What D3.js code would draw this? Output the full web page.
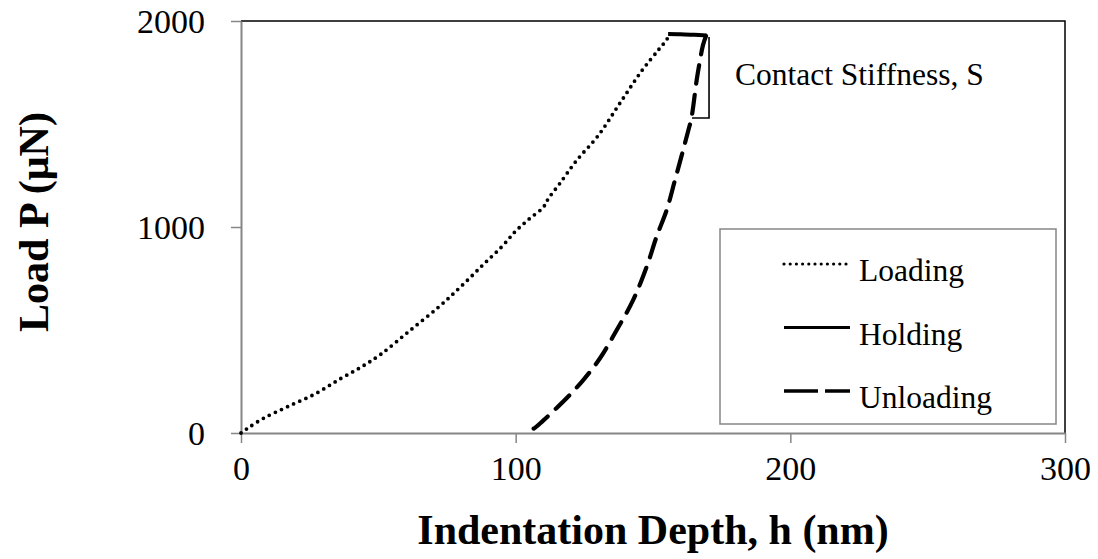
<!DOCTYPE html>
<html>
<head>
<meta charset="utf-8">
<script src="https://cdn.jsdelivr.net/npm/d3@7"></script>
<style>
  body { margin: 0; background: #fff; }
  text { font-family: "Liberation Serif", "Times New Roman", serif; }
</style>
</head>
<body>
<svg class="chart" width="1098" height="559"></svg>
<script>
// depth h (nm), load P (uN)
const loadingH = [0, 2, 8, 17, 27, 36, 44, 51, 61, 72, 80, 88, 95, 100, 105, 110, 112, 116, 122, 130, 138, 146, 152, 155, 156]
const loadingP = [0, 19, 70, 128, 190, 262, 322, 383, 492, 612, 710, 815, 905, 980, 1040, 1095, 1140, 1210, 1320, 1443, 1602, 1760, 1860, 1910, 1937]

const holdingH = [155.5, 160, 165, 169.5]
const holdingP = [1937, 1936, 1933, 1930]

const unloadingH = [169.3, 168.2, 167, 165.9, 164, 162.9, 160.5, 158, 155, 151.3, 147.7, 142.8, 136.8, 130.7, 124.6, 118.6, 114, 110, 107, 104]
const unloadingP = [1927, 1883, 1800, 1713, 1529, 1471, 1350, 1228, 1083, 953, 807, 646, 500, 363, 257, 170, 110, 60, 25, 3]

// contact stiffness bracket
const bracketH = [170.4, 170.4, 164.2]
const bracketP = [1922, 1529, 1529]

const xTicks = [0, 100, 200, 300]
const yTicks = [0, 1000, 2000]
const legendNames = ['Loading', 'Holding', 'Unloading']

const svg = d3.select('.chart')
const x = d3.scaleLinear().domain([0, 300]).range([241, 1065])
const y = d3.scaleLinear().domain([0, 2000]).range([433, 21])

function zip(hs, ps) {
  return hs.map((h, i) => [h, ps[i]])
}

// plot frame: top and right
svg.append('path')
  .attr('d', `M${x(0)},${y(2000)}H${x(300)}V${y(0)}`)
  .attr('fill', 'none')
  .attr('stroke', '#000')
  .attr('stroke-width', 1.5)

const xAxis = svg.append('g')
  .attr('transform', `translate(0,${y(0)})`)
  .call(d3.axisBottom(x).tickValues(xTicks).tickFormat(d3.format('d')).tickSize(10).tickPadding(10).tickSizeOuter(0))
const yAxis = svg.append('g')
  .attr('transform', `translate(${x(0)},0)`)
  .call(d3.axisLeft(y).tickValues(yTicks).tickFormat(d3.format('d')).tickSize(10).tickPadding(26).tickSizeOuter(0))

;[xAxis, yAxis].forEach(g => {
  g.select('.domain').attr('stroke', '#868686').attr('stroke-width', 2)
  g.selectAll('.tick line').attr('stroke', '#868686').attr('stroke-width', 1.5)
  g.selectAll('.tick text')
    .attr('fill', '#000')
    .style('font-size', '34px')
    .style('font-family', '"Liberation Serif", serif')
})
yAxis.selectAll('.tick text').attr('dy', '0.34em')
xAxis.selectAll('.tick text').attr('dy', '0.8em')

const line = d3.line().x(d => x(d[0])).y(d => y(d[1])).curve(d3.curveCatmullRom)

svg.append('path')
  .datum(zip(loadingH, loadingP))
  .attr('d', line)
  .attr('fill', 'none')
  .attr('stroke', '#000')
  .attr('stroke-width', 3.8)
  .attr('stroke-linecap', 'round')
  .attr('stroke-dasharray', '0,6.7')

svg.append('path')
  .datum(zip(unloadingH, unloadingP))
  .attr('d', line)
  .attr('fill', 'none')
  .attr('stroke', '#000')
  .attr('stroke-width', 4.2)
  .attr('stroke-linecap', 'round')
  .attr('stroke-dasharray', '19,11')

svg.append('path')
  .datum(zip(holdingH, holdingP))
  .attr('d', line)
  .attr('fill', 'none')
  .attr('stroke', '#000')
  .attr('stroke-width', 4)

svg.append('path')
  .datum(zip(bracketH, bracketP))
  .attr('d', d3.line().x(d => x(d[0])).y(d => y(d[1])))
  .attr('fill', 'none')
  .attr('stroke', '#000')
  .attr('stroke-width', 1.6)

svg.append('text')
  .attr('x', 735)
  .attr('y', 85)
  .style('font-size', '31.5px')
  .text('Contact Stiffness, S')

// legend
const legend = svg.append('g')
legend.append('rect')
  .attr('x', 720).attr('y', 229)
  .attr('width', 336).attr('height', 195)
  .attr('fill', '#fff')
  .attr('stroke', '#868686')
  .attr('stroke-width', 1.5)

const legendDash = ['0,6.2', null, '34,7']
const legendWidth = [3.2, 3, 3.5]
legendNames.forEach((name, i) => {
  const cy = 264 + i * 63.5
  legend.append('line')
    .attr('x1', 784).attr('x2', 850)
    .attr('y1', cy).attr('y2', cy)
    .attr('stroke', '#000')
    .attr('stroke-width', legendWidth[i])
    .attr('stroke-linecap', i === 0 ? 'round' : 'butt')
    .attr('stroke-dasharray', legendDash[i])
  legend.append('text')
    .attr('x', 859)
    .attr('y', cy + 17)
    .style('font-size', '31.5px')
    .text(name)
})

svg.append('text')
  .attr('x', 653)
  .attr('y', 544)
  .attr('text-anchor', 'middle')
  .style('font-size', '42px')
  .style('font-weight', 'bold')
  .text('Indentation Depth, h (nm)')

svg.append('text')
  .attr('transform', 'translate(48,222) rotate(-90)')
  .attr('text-anchor', 'middle')
  .style('font-size', '42px')
  .style('font-weight', 'bold')
  .text('Load P (μN)')
</script>
</body>
</html>
